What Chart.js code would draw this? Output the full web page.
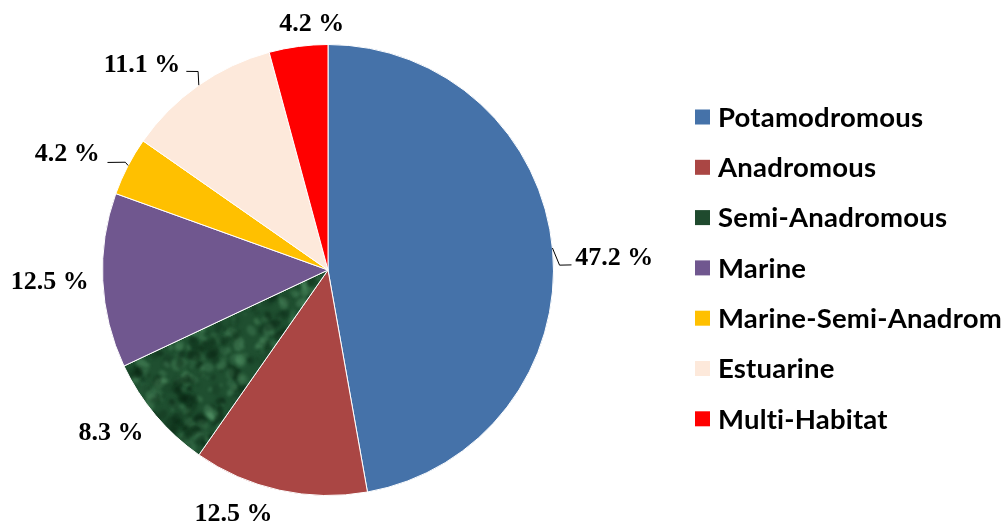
<!DOCTYPE html>
<html>
<head>
<meta charset="utf-8">
<script src="https://cdn.jsdelivr.net/npm/chart.js@4.4.1/dist/chart.umd.min.js"></script>
<style>
  html, body { margin: 0; padding: 0; background: #ffffff; }
  #wrap { width: 1005px; height: 529px; position: relative; }
</style>
</head>
<body>
<div id="wrap"><canvas id="c" width="1005" height="529"></canvas></div>
<script>
// ---- data ----
const categories = ["Potamodromous", "Anadromous", "Semi-Anadromous", "Marine", "Marine-Semi-Anadrom", "Estuarine", "Multi-Habitat"];
const shares = [47.2, 12.5, 8.3, 12.5, 4.2, 11.1, 4.2];
const valueLabels = ["47.2 %", "12.5 %", "8.3 %", "12.5 %", "4.2 %", "11.1 %", "4.2 %"];

// ---- styles ----
const sliceColors = ["#4572A9", "#AA4644", "TEXTURE", "#70578F", "#FFC000", "#FDE9DB", "#FF0000"];
const legendColors = ["#4572A9", "#AA4644", "#1F4A2E", "#70578F", "#FFC000", "#FDE9DB", "#FF0000"];
// label placement: angle offset (deg) from slice middle, distance factor of radius
const labelAngleOffset = [2.6, 8.7, 3.2, 0.2, -3.5, -7.1, 3.8];
const labelDistance = [1.27, 1.163, 1.204, 1.235, 1.264, 1.228, 1.091];
// leader lines: polar points (absolute angle deg, radius factor)
const leaders = {
  0: [[-5.6, 1.0], [-1.2, 1.027], [-1.2, 1.08]],
  4: [[207.6, 1.0], [208.0, 1.018], [206.0, 1.088]],
  5: [[235.05, 1.0], [236.8, 1.052], [234.5, 1.082]]
};

function makeTexture() {
  const s = 180;
  const off = document.createElement('canvas');
  off.width = s; off.height = s;
  const g = off.getContext('2d');
  g.fillStyle = '#1F4F30';
  g.fillRect(0, 0, s, s);
  function h(n) { const v = Math.sin(n * 127.1 + 311.7) * 43758.5453; return v - Math.floor(v); }
  g.filter = 'blur(1.5px)';
  for (let i = 0; i < 700; i++) {
    const x = h(i) * s, y = h(i + 1000) * s, r = 0.8 + h(i + 2000) * 4.5;
    const light = h(i + 3000) > 0.5;
    g.fillStyle = light ? 'rgba(100,170,120,' + (0.10 + h(i + 4000) * 0.25).toFixed(2) + ')'
                        : 'rgba(8,36,18,' + (0.15 + h(i + 4000) * 0.35).toFixed(2) + ')';
    for (let dx = -s; dx <= s; dx += s) for (let dy = -s; dy <= s; dy += s) {
      g.beginPath(); g.ellipse(x + dx, y + dy, r * 1.4, r, h(i + 5000) * 3, 0, Math.PI * 2); g.fill();
    }
  }
  return g.createPattern(off, 'repeat');
}

const ctx = document.getElementById('c').getContext('2d');
const texture = makeTexture();
const bg = sliceColors.map(c => c === 'TEXTURE' ? texture : c);

const labelPlugin = {
  id: 'pieLabels',
  afterDatasetsDraw(chart) {
    const meta = chart.getDatasetMeta(0);
    const c = chart.ctx;
    c.save();
    c.font = 'bold 26px "Liberation Serif", "Times New Roman", serif';
    c.fillStyle = '#000000';
    c.textAlign = 'center';
    c.textBaseline = 'middle';
    meta.data.forEach((arc, i) => {
      const p = arc.getProps(['x', 'y', 'startAngle', 'endAngle', 'outerRadius'], true);
      const mid = (p.startAngle + p.endAngle) / 2 + labelAngleOffset[i] * Math.PI / 180;
      const d = p.outerRadius * labelDistance[i];
      const lx = p.x + Math.cos(mid) * d;
      const ly = p.y + Math.sin(mid) * d;
      c.fillText(valueLabels[i], lx, ly);
      if (leaders[i]) {
        c.strokeStyle = '#000000';
        c.lineWidth = 1;
        c.beginPath();
        leaders[i].forEach((pt, k) => {
          const a = pt[0] * Math.PI / 180;
          const px = p.x + Math.cos(a) * p.outerRadius * pt[1];
          const py = p.y + Math.sin(a) * p.outerRadius * pt[1];
          if (k === 0) c.moveTo(px, py); else c.lineTo(px, py);
        });
        c.stroke();
      }
    });
    c.restore();
  }
};

const legendPlugin = {
  id: 'sideLegend',
  afterDraw(chart) {
    const c = chart.ctx;
    c.save();
    c.font = 'bold 27.5px Lato, "Open Sans", sans-serif';
    if ('letterSpacing' in c) c.letterSpacing = '0.2px';
    c.textBaseline = 'middle';
    c.textAlign = 'left';
    const x0 = 695, y0 = 117, step = 50.3, box = 15;
    chart.data.labels.forEach((lab, i) => {
      const y = y0 + i * step;
      c.fillStyle = legendColors[i];
      c.fillRect(x0, y - box / 2, box, box);
      c.fillStyle = '#000000';
      c.fillText(lab, x0 + 23, y + 1);
    });
    c.restore();
  }
};

new Chart(ctx, {
  type: 'pie',
  data: {
    labels: categories,
    datasets: [{
      data: shares,
      backgroundColor: bg,
      borderColor: '#ffffff',
      borderWidth: 1
    }]
  },
  options: {
    responsive: false,
    animation: false,
    layout: { padding: { left: 102, top: 44, right: 451, bottom: 33 } },
    plugins: {
      legend: { display: false },
      tooltip: { enabled: false }
    }
  },
  plugins: [labelPlugin, legendPlugin]
});
</script>
</body>
</html>
